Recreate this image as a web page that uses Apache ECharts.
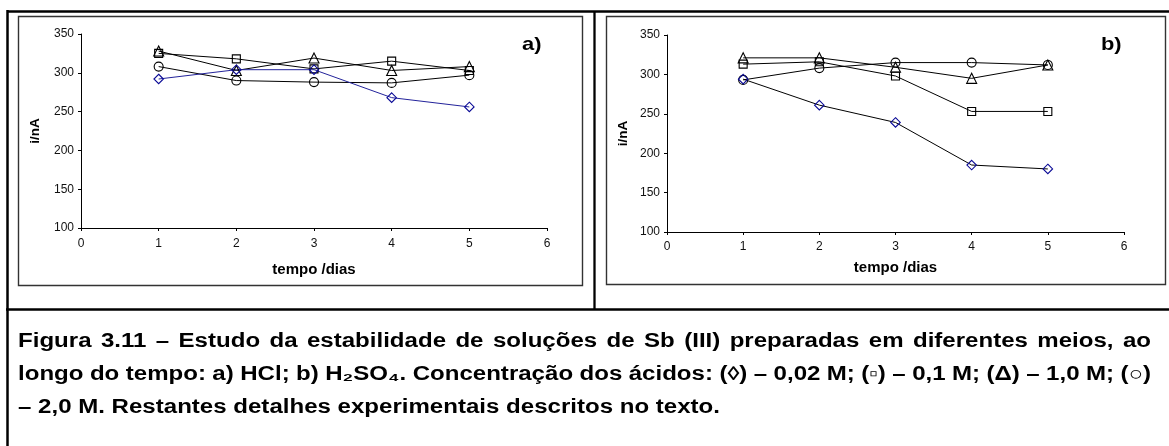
<!DOCTYPE html>
<html><head><meta charset="utf-8">
<script src="https://cdn.jsdelivr.net/npm/echarts@6/dist/echarts.min.js"></script>
<style>html,body{margin:0;padding:0;background:#fff}#c{width:1169px;height:446px}</style>
</head><body><div id="c"></div>
<script>
// ---- data ----
const days = [1, 2, 3, 4, 5];
const xTickMin = 0, xTickMax = 6, xTickStep = 1;
const yTickMin = 100, yTickMax = 350, yTickStep = 50;
// a) HCl
const hcl_002M = [292, 304, 304, 268, 256];
const hcl_01M  = [325, 318, 305, 315, 303];
const hcl_10M  = [328, 303, 319, 303, 308];
const hcl_20M  = [308, 290, 288, 287, 297];
// b) H2SO4
const h2so4_002M = [294, 261, 239, 185, 180];
const h2so4_01M  = [313, 316, 298, 253, 253];
const h2so4_10M  = [321, 321, 309, 295, 312];
const h2so4_20M  = [293, 308, 315, 315, 312];
const panelLabels = ['a)', 'b)'];
const xAxisTitle = 'tempo /dias';
const yAxisTitle = 'i/nA';
const captionLines = [
  'Figura 3.11 – Estudo da estabilidade de soluções de Sb (III) preparadas em diferentes meios, ao',
  'longo do tempo: a) HCl; b) H₂SO₄. Concentração dos ácidos: (◊) – 0,02 M; (▫) – 0,1 M; (Δ) – 1,0 M; (○)',
  '– 2,0 M. Restantes detalhes experimentais descritos no texto.'
];

// ---- styling / layout ----
const FF = '"Liberation Sans", Arial, Helvetica, sans-serif';
const BLACK = '#000';
const NAVY_LINE = '#23239b';
const NAVY_MARK = '#0a0a96';

function pts(vals) { return days.map((d, i) => [d, vals[i]]); }
function ser(name, vals, symbol, idx, lineColor, markColor, size) {
  return {
    type: 'line', name, xAxisIndex: idx, yAxisIndex: idx, data: pts(vals),
    symbol, symbolSize: size, showSymbol: true, showAllSymbol: true,
    lineStyle: { color: lineColor, width: 1 },
    itemStyle: { color: 'rgba(255,255,255,0)', borderColor: markColor, borderWidth: 1.1 },
    emphasis: { disabled: true }, animation: false
  };
}

function xAx(idx, gap, margin) {
  return {
    type: 'value', gridIndex: idx, min: xTickMin, max: xTickMax, interval: xTickStep,
    axisLine: { show: true, lineStyle: { color: BLACK, width: 1 } },
    axisTick: { show: true, length: 3, lineStyle: { color: BLACK } },
    splitLine: { show: false },
    axisLabel: { fontSize: 12, color: '#111', fontFamily: FF, margin },
    name: xAxisTitle, nameLocation: 'middle', nameGap: gap,
    nameTextStyle: { fontSize: 15, fontWeight: 'bold', color: BLACK, fontFamily: FF }
  };
}
function yAx(idx, gap) {
  return {
    type: 'value', gridIndex: idx, min: yTickMin, max: yTickMax, interval: yTickStep,
    axisLine: { show: true, lineStyle: { color: BLACK, width: 1 } },
    axisTick: { show: true, length: 3, lineStyle: { color: BLACK } },
    splitLine: { show: false },
    axisLabel: { fontSize: 12, color: '#111', fontFamily: FF, margin: 7 },
    name: yAxisTitle, nameLocation: 'middle', nameGap: gap, nameRotate: 90,
    nameTextStyle: { fontSize: 13.5, fontWeight: 'bold', color: BLACK, fontFamily: FF }
  };
}

// frames & borders
const graphics = [];
function line(x1, y1, x2, y2, w, c) {
  graphics.push({ type: 'line', silent: true, z: -1, shape: { x1, y1, x2, y2 }, style: { stroke: c || BLACK, lineWidth: w } });
}
graphics.push({ type: 'rect', silent: true, z: -2, shape: { x: 18.5, y: 16.5, width: 564, height: 269 }, style: { fill: '#fff', stroke: '#333', lineWidth: 1.4 } });
graphics.push({ type: 'rect', silent: true, z: -2, shape: { x: 606.5, y: 16.5, width: 559, height: 268 }, style: { fill: '#fff', stroke: '#333', lineWidth: 1.4 } });
line(7, 11.5, 1169, 11.5, 2.5);
line(7.5, 10, 7.5, 446, 2.5);
line(594.5, 11, 594.5, 309, 2.3);
line(6, 309.5, 1169, 309.5, 2.7);

// panel labels
graphics.push({ type: 'text', silent: true, x: 522, y: 45, scaleX: 1.15, style: { text: panelLabels[0], fontSize: 19, fontWeight: 'bold', fontFamily: FF, fill: BLACK, verticalAlign: 'middle', align: 'left' } });
graphics.push({ type: 'text', silent: true, x: 1101, y: 45, scaleX: 1.15, style: { text: panelLabels[1], fontSize: 19, fontWeight: 'bold', fontFamily: FF, fill: BLACK, verticalAlign: 'middle', align: 'left' } });

// caption (justified)
const capFS = 19.5;
const ctx = document.createElement('canvas').getContext('2d');
ctx.font = 'bold ' + capFS + 'px ' + FF;
const sx = (720 - 18) / ctx.measureText(captionLines[2]).width;
const capLeft = 18, capRight = 1151, capY = [342, 375, 408];
captionLines.forEach((ln, li) => {
  const words = ln.split(' ');
  const widths = words.map(w => ctx.measureText(w).width * sx);
  let gap = ctx.measureText(' ').width * sx;
  if (li < captionLines.length - 1) {
    const tot = widths.reduce((a, b) => a + b, 0);
    gap = (capRight - capLeft - tot) / (words.length - 1);
  }
  let x = capLeft;
  words.forEach((w, i) => {
    graphics.push({ type: 'text', silent: true, x, y: capY[li], scaleX: sx,
      style: { text: w, fontSize: capFS, fontWeight: 'bold', fontFamily: FF, fill: BLACK, verticalAlign: 'middle', align: 'left' } });
    x += widths[i] + gap;
  });
});

const chart = echarts.init(document.getElementById('c'), null, { renderer: 'canvas' });
chart.setOption({
  backgroundColor: '#fff',
  animation: false,
  grid: [
    { left: 81, top: 34, width: 466, height: 194 },
    { left: 667, top: 35, width: 457, height: 197 }
  ],
  xAxis: [xAx(0, 34, 10), xAx(1, 28, 9)],
  yAxis: [yAx(0, 39), yAx(1, 37)],
  series: [
    ser('HCl 2,0 M', hcl_20M, 'circle', 0, BLACK, BLACK, 9),
    ser('HCl 1,0 M', hcl_10M, 'triangle', 0, BLACK, BLACK, 10),
    ser('HCl 0,1 M', hcl_01M, 'rect', 0, BLACK, BLACK, 8),
    ser('HCl 0,02 M', hcl_002M, 'diamond', 0, NAVY_LINE, NAVY_MARK, 9.5),
    ser('H2SO4 2,0 M', h2so4_20M, 'circle', 1, BLACK, BLACK, 9),
    ser('H2SO4 1,0 M', h2so4_10M, 'triangle', 1, BLACK, BLACK, 10),
    ser('H2SO4 0,1 M', h2so4_01M, 'rect', 1, BLACK, BLACK, 8),
    ser('H2SO4 0,02 M', h2so4_002M, 'diamond', 1, BLACK, NAVY_MARK, 9.5)
  ],
  graphic: graphics
});
</script></body></html>
